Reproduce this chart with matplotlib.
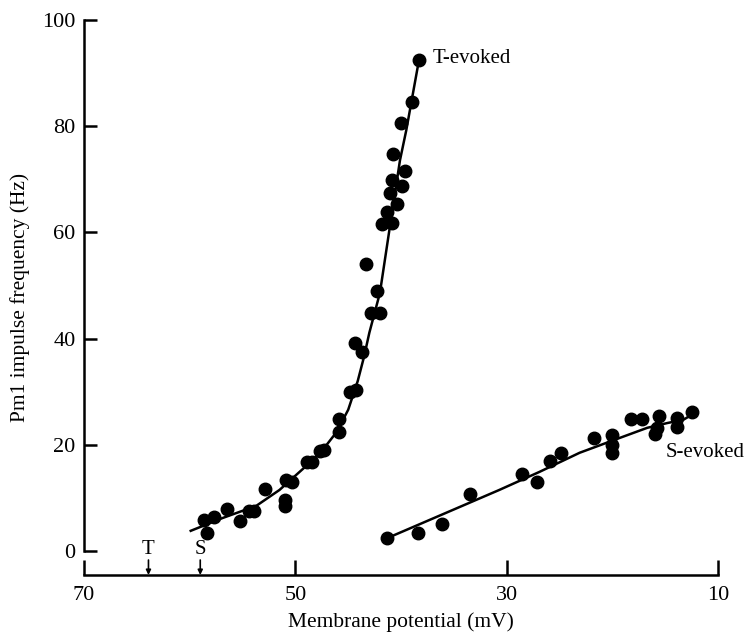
import matplotlib
matplotlib.use("Agg")
import matplotlib.pyplot as plt

plt.rcParams['font.family'] = ['Liberation Serif', 'DejaVu Serif']

# T-evoked data (membrane potential mV, frequency Hz)
t_x = [58.6, 58.4, 57.7, 56.5, 55.2, 54.4, 53.9, 52.9, 51.0, 51.0, 50.9, 50.3,
       48.9, 48.4, 47.7, 47.3, 45.9, 45.9, 44.8, 44.3, 44.4, 43.7, 42.8, 42.0,
       42.3, 43.3, 41.8, 40.9, 41.3, 40.4, 41.0, 39.9, 40.9, 39.6, 40.8, 40.0,
       39.0, 38.3]
t_y = [5.8, 3.4, 6.4, 7.9, 5.6, 7.5, 7.5, 11.7, 9.6, 8.5, 13.4, 13.0,
       16.8, 16.8, 18.8, 19.0, 24.9, 22.4, 29.9, 30.3, 39.2, 37.5, 44.8, 44.8,
       49.0, 54.0, 61.6, 61.8, 63.8, 65.3, 67.4, 68.7, 69.9, 71.6, 74.8, 80.6,
       84.6, 92.5]

# T-evoked fitted curve
t_fit_x = [59.9, 56.9, 53.7, 51.5, 49.6, 47.7, 46.1, 45.0, 44.1, 43.5, 43.0, 42.0, 41.1, 40.1, 39.5, 38.3]
t_fit_y = [3.8, 6.2, 8.5, 11.5, 14.9, 18.3, 22.4, 26.6, 32.0, 36.6, 41.1, 48.6, 60.5, 73.6, 79.3, 92.5]

# S-evoked data
s_x = [41.3, 38.4, 36.1, 33.5, 28.6, 27.1, 25.9, 24.9, 21.7, 20.0, 20.0, 20.0,
       18.2, 17.2, 15.6, 15.8, 16.0, 13.9, 13.9, 12.5]
s_y = [2.4, 3.4, 5.1, 10.7, 14.5, 13.0, 16.9, 18.5, 21.3, 21.8, 20.0, 18.5,
       24.9, 24.9, 25.4, 23.2, 22.0, 25.0, 23.4, 26.2]

# S-evoked fitted line
s_fit_x = [41.1, 30.7, 26.9, 23.1, 19.3, 16.7, 14.8, 13.3, 12.2]
s_fit_y = [2.6, 11.5, 14.9, 18.5, 21.3, 23.2, 24.1, 24.7, 26.0]

x_ticks = [70, 50, 30, 10]
y_ticks = [0, 20, 40, 60, 80, 100]
thresholds = {'T': 63.9, 'S': 59.0}

fig = plt.figure(figsize=(7.46, 6.35), dpi=100)
ax = fig.add_axes([0.1126, 0.0945, 0.850, 0.874])

ax.plot(t_fit_x, t_fit_y, color='black', lw=1.8, zorder=2)
ax.plot(s_fit_x, s_fit_y, color='black', lw=1.8, zorder=2)
ax.plot(t_x, t_y, 'o', color='black', ms=9, zorder=3)
ax.plot(s_x, s_y, 'o', color='black', ms=9, zorder=3)

ax.set_xlim(70, 10)
ax.set_ylim(-4.52, 100)

for s in ['top', 'right']:
    ax.spines[s].set_visible(False)
ax.spines['left'].set_bounds(0, 100)
ax.spines['bottom'].set_bounds(70, 10)
ax.spines['left'].set_linewidth(1.8)
ax.spines['bottom'].set_linewidth(1.8)

ax.set_xticks(x_ticks)
ax.set_yticks(y_ticks)
ax.tick_params(axis='x', direction='in', length=11, width=1.8, pad=8, labelsize=16)
ax.tick_params(axis='y', direction='in', length=9, width=1.8, pad=6, labelsize=16)

ax.set_xlabel('Membrane potential (mV)', fontsize=15.5, labelpad=5)
ax.set_ylabel('Pm1 impulse frequency (Hz)', fontsize=15.5, labelpad=9)

ax.text(37.0, 92.7, 'T-evoked', fontsize=15, ha='left', va='center')
ax.text(15.0, 18.5, 'S-evoked', fontsize=15, ha='left', va='center')

for lab, xv in thresholds.items():
    ax.annotate('', xy=(xv, -4.52), xytext=(xv, -1.7),
                arrowprops=dict(arrowstyle='-|>', color='black', lw=1.2,
                                mutation_scale=7, shrinkA=0, shrinkB=0),
                annotation_clip=False)
    ax.text(xv, 0.3, lab, fontsize=15, ha='center', va='center')

fig.savefig('out.png', dpi=100)
